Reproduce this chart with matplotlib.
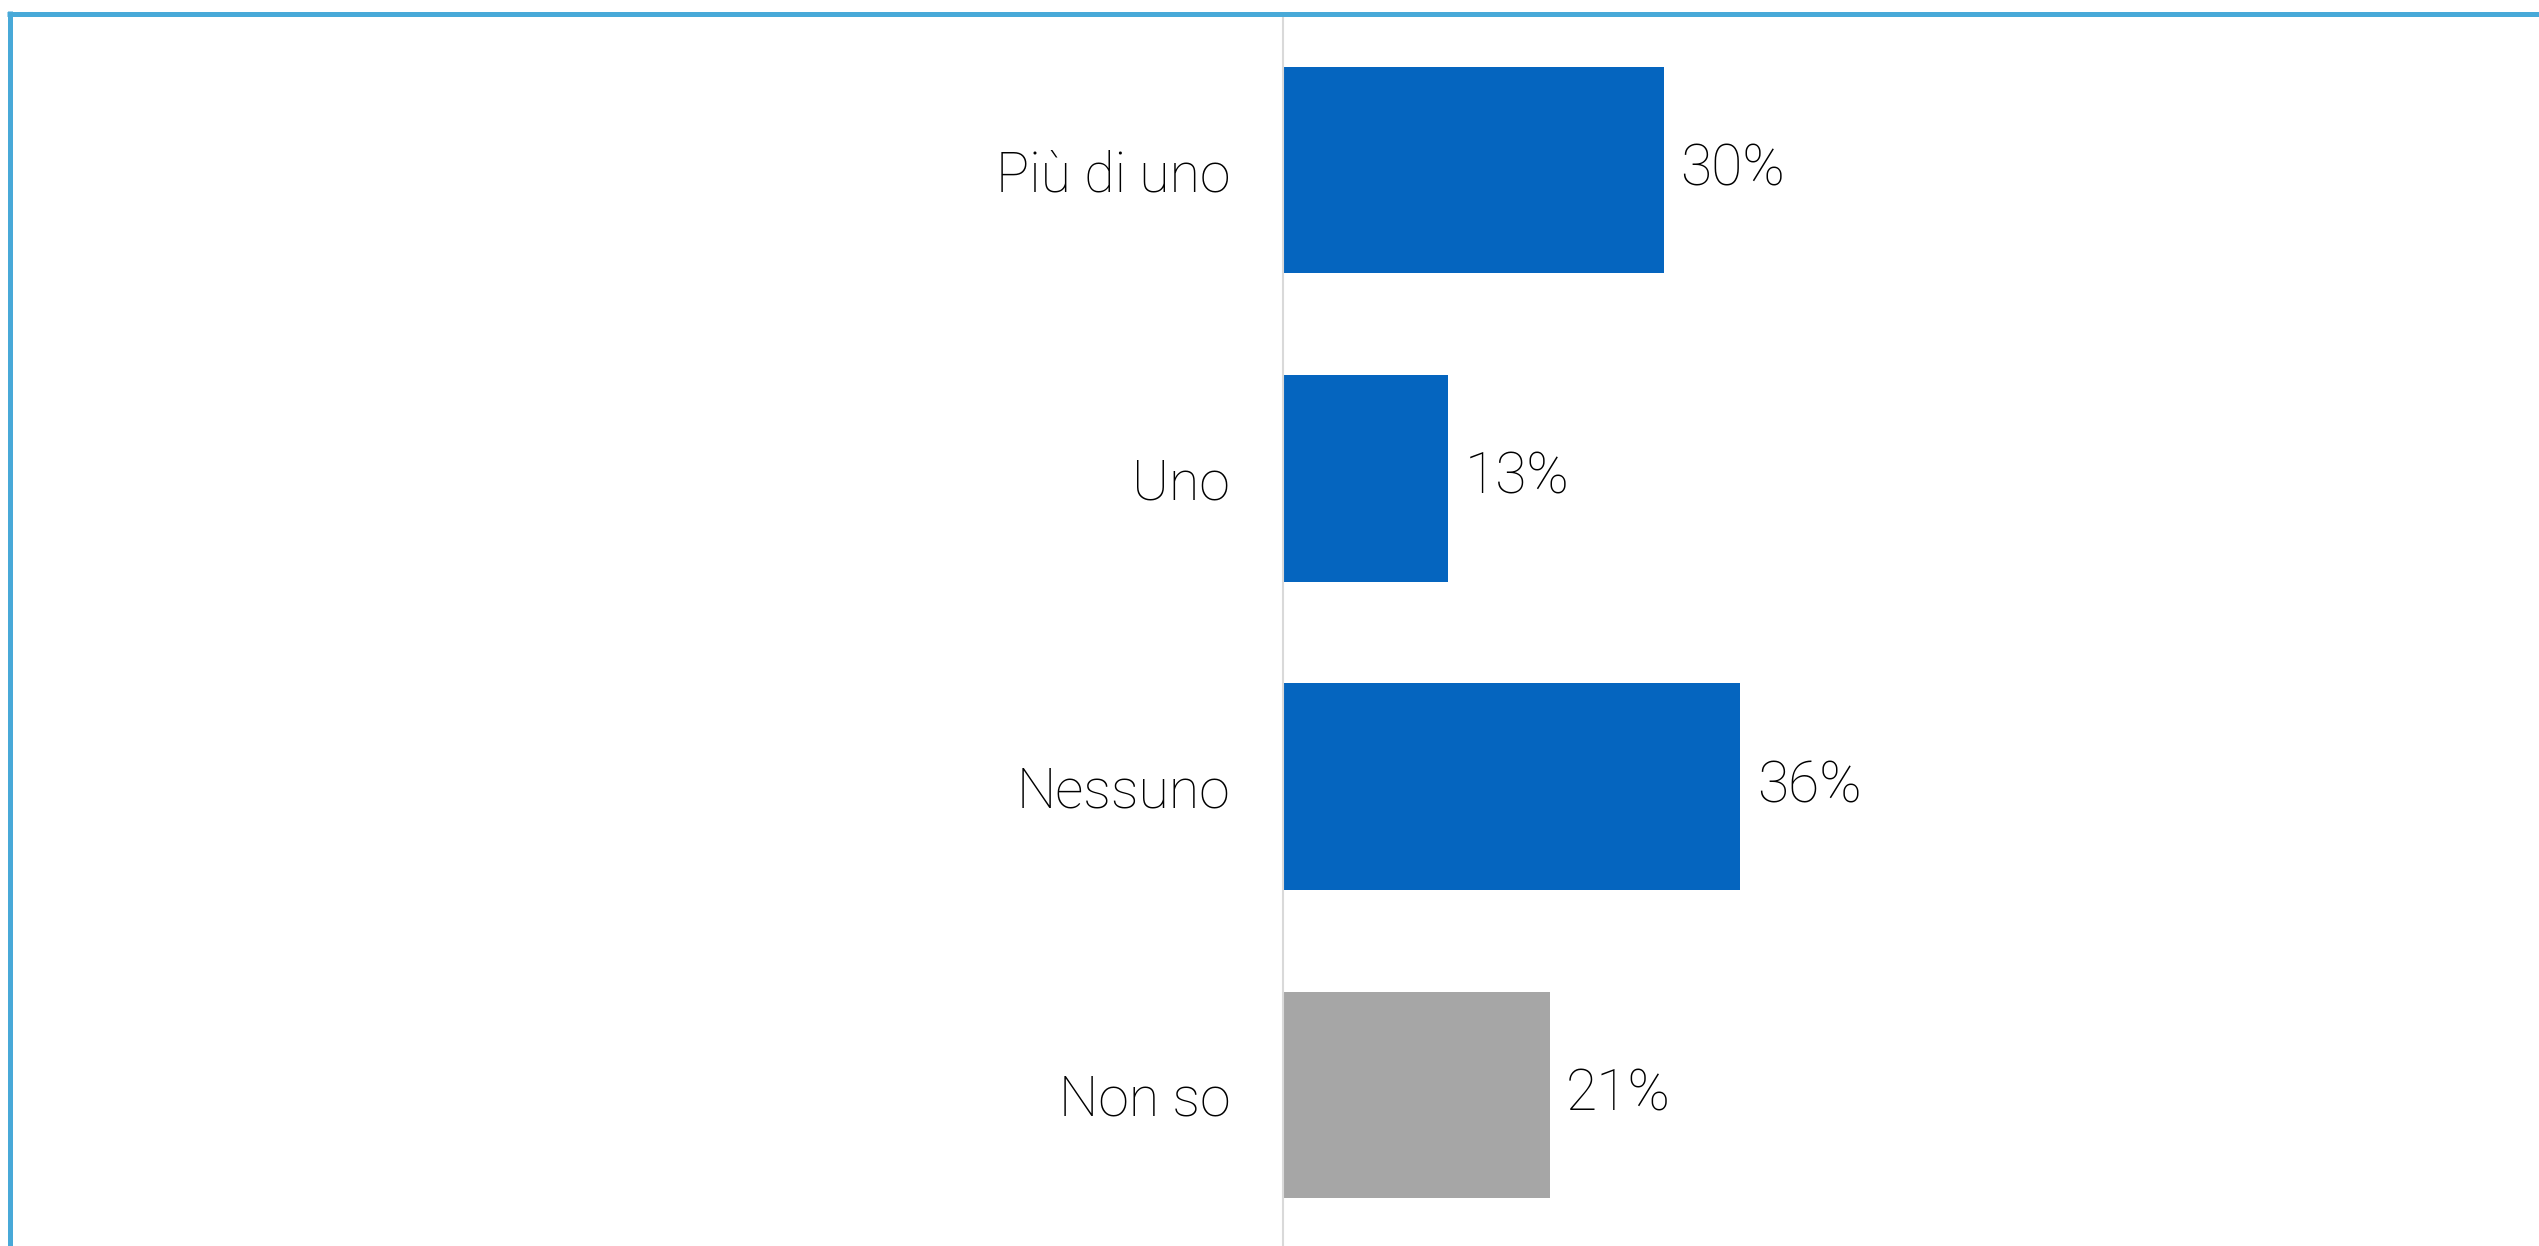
import matplotlib.pyplot as plt
from matplotlib.lines import Line2D

categories = ['Più di uno', 'Uno', 'Nessuno', 'Non so']
values = [30, 13, 36, 21]
value_labels = ['30%', '13%', '36%', '21%']
bar_colors = ['#0565BF', '#0565BF', '#0565BF', '#A6A6A6']

W, H = 2539, 1246
fig = plt.figure(figsize=(W / 100, H / 100), dpi=100)

# axes placed in pixel terms: left at the vertical line, top at the blue border
left, right = 1283, 2539
top, bottom = 16, 1249
ax = fig.add_axes([left / W, 1 - bottom / H, (right - left) / W, (bottom - top) / H])

y = list(range(len(categories)))
ax.barh(y, values, height=0.67, color=bar_colors)

ax.set_xlim(0, (right - left) / 12.7)
ax.set_ylim(len(categories) - 0.5, -0.5)

font = dict(family=['Roboto', 'DejaVu Sans'], fontweight='light')

ax.set_yticks(y)
ax.set_yticklabels(categories, fontsize=40, color='#000000', **font)
ax.tick_params(axis='y', length=0, pad=38)
ax.set_xticks([])

for i, v in enumerate(values):
    ax.text(v + 1.3, i, value_labels[i], va='center', ha='left',
            fontsize=41, color='#000000', **font)

for side in ['top', 'right', 'bottom']:
    ax.spines[side].set_visible(False)
ax.spines['left'].set_color('#D9D9D9')
ax.spines['left'].set_linewidth(1.5)

# blue frame on top and left of the picture
frame = '#48A9D8'
fig.add_artist(Line2D([7 / W, 1], [1 - 13.5 / H, 1 - 13.5 / H],
                      transform=fig.transFigure, color=frame, linewidth=3.6,
                      solid_capstyle='butt'))
fig.add_artist(Line2D([9.5 / W, 9.5 / W], [0, 1 - 11 / H],
                      transform=fig.transFigure, color=frame, linewidth=3.6,
                      solid_capstyle='butt'))

fig.savefig('out.png', dpi=100, facecolor='white')
